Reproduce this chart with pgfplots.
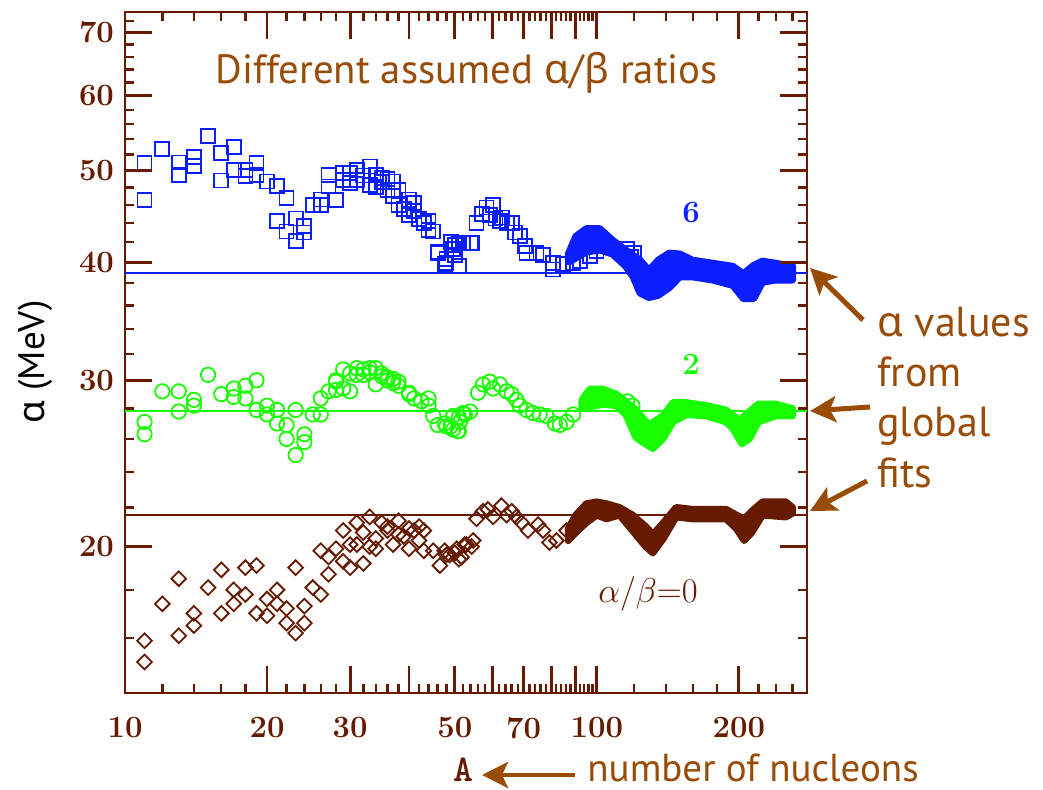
\documentclass[border=0pt]{standalone}
\usepackage{pgfplots}
\pgfplotsset{compat=1.18}
\usepackage{fontspec}
\usetikzlibrary{arrows.meta}
\newfontfamily\ptsans{PT Sans}
\newfontfamily\grk{Noto Sans}
\definecolor{axbrown}{RGB}{102,26,0}
\definecolor{txtbrown}{RGB}{153,76,8}
\definecolor{myblue}{RGB}{10,30,255}
\definecolor{mygreen}{RGB}{25,255,0}

\begin{document}
\begin{tikzpicture}
\path[use as bounding box] (0pt,0pt) rectangle (521.5pt,395pt);
\begin{axis}[
    at={(62.5pt,48.5pt)}, anchor=south west,
    scale only axis, width=341pt, height=340.5pt,
    xmode=log, ymode=log,
    xmin=10, xmax=279, ymin=14, ymax=73.6,
    axis line style={axbrown, line width=1.3pt},
    tick style={axbrown, line width=1.2pt},
    major tick length=4.5pt, minor tick length=4.5pt,
    tick align=inside,
    xtick={10,20,30,40,50,60,70,80,90,100,200},
    xticklabels={10,20,30,,50,,70,,,100,200},
    minor xtick={12,14,16,18,22,24,26,28,32,34,36,38,42,44,46,48,52,54,56,58,62,64,66,68,72,74,76,78,82,84,86,88,92,94,96,98,120,140,160,180,220,240,260},
    ytick={20,30,40,50,60,70},
    yticklabels={20,30,40,50,60,70},
    minor ytick={14,16,18,22,24,26,28,32,34,36,38,42,44,46,48,52,54,56,58,62,64,66,68,72},
    tick label style={font=\bfseries\fontsize{15.5}{17}\selectfont, text=axbrown},
    xticklabel style={yshift=-8.5pt},
    yticklabel style={xshift=-2pt},
    clip=false,
]
% fitted alpha values
\addplot[myblue, line width=1pt] coordinates {(10,39.0) (279,39.0)};
\addplot[mygreen, line width=1pt] coordinates {(10,27.8) (279,27.8)};
\addplot[axbrown, line width=1pt] coordinates {(10,21.6) (279,21.6)};

% alpha/beta = 6
\addplot[only marks, mark=square, mark size=3.5pt, myblue, line width=0.9pt] coordinates {
(11,50.9) (11,46.5) (12,52.7) (13,51.0) (13,49.5) (14,51.7) (14,50.6) (15,54.4) (16,52.2) (16,48.8)
(17,53.0) (17,50.1) (18,50.1) (18,49.3) (19,50.9) (19,49.5) (20,48.7) (21,48.2) (21,44.2) (22,46.8)
(22,43.1) (23,42.1) (23,44.5) (24,43.7) (24,43.0) (25,46.0) (26,46.6) (26,46.0) (27,49.5) (27,48.1)
(28,46.5) (29,49.7) (29,48.9) (30,49.7) (30,48.5) (31,50.1) (31,48.9) (32,49.4) (33,50.5) (33,48.3)
(34,49.5) (34,48.0) (35,49.1) (35,48.6) (36,47.7) (36,49.0) (37,48.7) (37,47.0) (38,47.7) (38,46.0)
(39,45.5) (40,46.6) (40,44.9) (41,46.2) (41,45.3) (42,44.4) (43,44.0) (44,44.2) (44,43.3) (45,43.1)
(46,40.9) (46,41.0) (48,40.3) (48,39.9) (49,42.0) (50,41.7) (50,40.7) (51,39.6) (52,41.9) (54,41.9)
(47.6,39.8) (49.5,41.3) (51,41.9) (54.3,41.9) (55.6,44.0) (57,45.0) (58.4,45.7) (60.3,46.0) (59.3,44.9)
(61,44.5) (62.3,44.2) (63,44.6) (64.4,44.0) (66,44.0) (67,43.0) (68.7,42.6) (70.4,41.6) (71,40.9)
(74.5,40.9) (76.9,40.7) (80.8,39.9) (80.8,39.3) (84.8,39.8) (89.1,39.9) (92,40.1) (96.6,40.6)
(99.9,41.1) (116,41.3) (118,40.5) (120,40.9)
};
\addplot[myblue, fill=myblue, line width=3.5pt, line join=round] coordinates {
(87,40.8) (90.3,42.6) (95,43.4) (101.5,43.4) (108,42.2) (115.2,41.2) (123.5,40.2) (129,39.2)
(135,40.2) (142.5,40.9) (150,40.8) (159.5,40.2) (176.3,39.9) (194.3,39.6) (204.5,38.9) (215,39.7)
(224.5,40.1) (239.5,39.9) (260,39.6)
(260,38.3) (239.5,38.3) (224.5,38.1) (215,36.6) (204.5,36.6) (194.3,37.8) (176.3,38.3) (159.5,38.6)
(150,38.6) (142.5,37.6) (135,36.9) (129,36.7) (123.5,37.1) (119.4,38.6) (115.2,39.6) (108,40.8)
(101.5,41.2) (95,41.0) (90.3,40.4) (87,40.0)
} -- cycle;

% alpha/beta = 2
\addplot[only marks, mark=o, mark size=3.6pt, mygreen, line width=0.9pt] coordinates {
(11,27.1) (11,26.3) (12,29.2) (13,29.2) (13,27.8) (14,28.6) (14,28.2) (15,30.4) (16,29.0) (17,29.4)
(17,28.8) (18,29.6) (18,28.7) (19,30.0) (19,27.9) (20,28.2) (20,27.6) (21,27.9) (21,27.0) (22,26.9)
(22,26.0) (23,27.9) (23,25.0) (24,26.3) (24,25.8) (25,27.6) (26,27.6) (26,28.7) (27,29.2) (28,29.9)
(28,29.3) (29,30.8) (29,29.4) (30,29.2) (31,30.4) (31,30.9) (32,30.4) (33,30.9) (34,29.7) (35,30.3)
(36,30.0) (37,30.1) (38,29.9) (40,29.0) (41,28.7) (42.5,28.5) (44,28.7) (44,28.2) (45,27.5) (46,26.9)
(48,26.8) (49,26.8) (51,26.5) (51,27.4) (52.5,27.6) (28,30.0) (30,30.5) (32,30.8) (33,30.6) (34,30.9)
(35,30.5) (36,30.2) (37,29.8) (38,29.6) (40,29.1) (47.6,27.0) (49.6,27.5) (49.6,26.6) (51.3,27.1)
(52.1,27.7) (53.9,27.8) (50.8,26.5) (56,29.1) (57.4,29.7) (59.3,29.9) (60.3,29.4) (62.3,29.7)
(64.4,29.2) (66,29.0) (67.6,28.6) (68.7,28.2) (71,27.9) (73.3,27.7) (75.7,27.6) (78.2,27.5)
(81.5,27.0) (83.5,26.9) (86.3,27.1) (89.1,27.6) (116,28.5) (119,28.2)
};
\addplot[mygreen, fill=mygreen, line width=3.5pt, line join=round] coordinates {
(93,28.6) (96.6,29.35) (103,29.35) (110,29.0) (115.2,28.5) (121,27.9) (129,26.9) (138,27.5) (145,28.4)
(155,28.4) (171,28.2) (188,27.9) (200.7,27.2) (210.5,27.8) (220,28.3) (239.5,28.3) (260,28.0)
(260,27.5) (239.5,27.5) (220,27.1) (210.5,26.0) (203,25.7) (194,26.7) (188,27.1) (171,27.5)
(155,27.6) (145,27.1) (138,26.0) (131.5,25.4) (125,25.8) (121,26.1) (115.2,27.6) (110,28.2)
(103,28.3) (96.6,28.1) (93,28.0)
} -- cycle;

% alpha/beta = 0
\addplot[only marks, mark=square, mark size=2.6pt, axbrown, line width=0.9pt,
    every mark/.append style={rotate=45}] coordinates {
(11,15.9) (11,15.1) (12,17.4) (13,18.5) (13,16.1) (14,17.0) (14,16.5) (15,18.1) (16,18.9) (16,17.0)
(17,18.0) (17,17.4) (18,19.0) (18,17.8) (19,19.1) (19,17.0) (20,17.6) (20,16.9) (21,18.0) (21,17.4)
(22,17.2) (22,16.6) (23,19.0) (23,16.2) (24,17.3) (24,16.6) (25,18.1) (26,17.8) (26,19.8) (27,19.5)
(27,18.7) (28,19.9) (29,20.8) (29,19.3) (30,20.1) (30,19.0) (31,21.2) (31,20.1) (32,20.7) (32,19.2)
(33,21.5) (33,20.0) (34,19.9) (34,20.4) (35,21.2) (36,20.8) (36,21.0) (37,20.1) (38,21.3) (38,20.6)
(39,20.5) (40,19.9) (40,20.9) (41,20.8) (42,20.3) (42,21.0) (43,20.8) (43,19.8) (45,19.8) (46.5,19.1)
(48,19.6) (50,19.7) (51,19.4) (52.5,20.1) (47.6,19.8) (48.8,19.6) (50.5,19.9) (51.7,19.5) (52.9,20.1)
(54.3,20.0) (54.7,20.3) (55.6,21.4) (57.4,21.8) (58.8,21.9) (60.3,21.5) (62.8,22.1) (64.4,21.6)
(66,21.8) (67.6,21.5) (69.3,21.2) (71.5,20.8) (75.1,21.1) (76.9,20.8) (79.4,20.2) (82.1,20.3) (86.3,20.8)
};
\addplot[axbrown, fill=axbrown, line width=3.5pt, line join=round] coordinates {
(87,20.9) (90.3,21.6) (95,22.2) (100,22.3) (104.8,22.2) (111.7,22.0) (119,21.6) (127,21.0)
(131.5,20.6) (138.4,21.2) (147.3,22.0) (159.5,21.9) (188,21.9) (197.6,21.6) (205.3,21.4) (213,21.8)
(224.5,22.3) (251.6,22.3) (260,22.0)
(260,21.7) (251.6,21.5) (224.5,21.6) (213,20.7) (205.3,20.3) (197.6,20.9) (188,21.4) (159.5,21.4)
(147.3,21.5) (138.4,20.4) (131.5,19.7) (127,20.0) (119,20.8) (111.7,21.6) (104.8,21.4) (100,21.6)
(95,21.2) (90.3,20.7) (87,20.3)
} -- cycle;
\end{axis}

\begin{scope}[x=0.5pt,y=0.5pt]
% long major ticks (axis box: x 125..807, y 97..778 in these units)
\foreach \t in {267.0,350.1,409.0,454.8,492.1,523.7,551.1,575.2,596.8,738.8}{
  \draw[axbrown, line width=1.4pt] (\t,97) -- (\t,124);
  \draw[axbrown, line width=1.4pt] (\t,778) -- (\t,751);
}
\foreach \t in {243.4,409.7,527.8,619.3,694.1,757.4}{
  \draw[axbrown, line width=1.4pt] (125,\t) -- (152,\t);
  \draw[axbrown, line width=1.4pt] (807,\t) -- (780,\t);
}

% series labels
\node[text=myblue, font=\bfseries\fontsize{15.5}{16}\selectfont] at (691,577) {6};
\node[text=mygreen, font=\bfseries\fontsize{15.5}{16}\selectfont] at (691,426) {2};
\node[text=axbrown, font=\fontsize{17}{18}\selectfont] at (648,196) {$\alpha/\beta{=}0$};

% title
\node[anchor=base west, text=txtbrown, font=\ptsans\fontsize{20.4}{24}\selectfont, inner sep=0pt]
  at (215,706.7) {Different assumed {\grk α}/{\grk β} ratios};

% y label
\node[rotate=90, font=\ptsans\fontsize{18.5}{20}\selectfont] at (35,428) {{\grk α} (MeV)};

% right-hand notes
\begin{scope}[text=txtbrown, font=\ptsans\fontsize{21}{24}\selectfont, inner sep=0pt]
\node[anchor=base west] at (877,453.3) {{\grk α} values};
\node[anchor=base west] at (877,403) {from};
\node[anchor=base west] at (877,353.3) {global};
\node[anchor=base west] at (877,302) {fits};
\end{scope}
\begin{scope}[txtbrown, line width=2.5pt, -{Stealth[length=13pt,width=13pt,inset=3pt]}]
\draw (863,470) -- (810,522);
\draw (870,383) -- (810,379);
\draw (867,309) -- (810,279);
\end{scope}

% x label
\node[anchor=base, text=axbrown, font=\ttfamily\bfseries\fontsize{19}{20}\selectfont, inner sep=0pt] at (463,8) {A};
\draw[txtbrown, line width=2.3pt, -{Stealth[length=13pt,width=13pt,inset=3pt]}] (575,15) -- (482,15);
\node[anchor=base west, text=txtbrown, font=\ptsans\fontsize{19.5}{22}\selectfont, inner sep=0pt]
  at (587,8) {number of nucleons};
\end{scope}
\end{tikzpicture}
\end{document}
